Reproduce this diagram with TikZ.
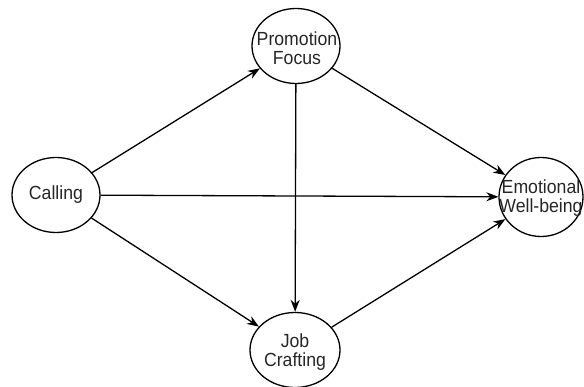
\documentclass[tikz,border=0pt]{standalone}
\usepackage{fontspec}
\setmainfont[FakeStretch=0.93]{Liberation Sans}
\usetikzlibrary{positioning,arrows.meta,shapes.geometric}

\begin{document}
\begin{tikzpicture}[x=1pt, y=-1pt, > = {Stealth[length=12pt,width=9pt]},
var/.style={ ellipse, draw, line width=1.3pt, inner sep=0pt, minimum width=88pt, minimum height=75pt },
vartext/.style={ inner sep=0pt, align=center, text=black!85, font=\fontsize{19}{19.5}\selectfont },
path/.style={ ->, line width=1.3pt }]

\useasboundingbox (0,0) rectangle (584,387);

\node (calling) [var] at (56,195) {};
\node (promo) [var] at (296,46) {};
\node (well) [var, minimum width=84pt, minimum height=79pt] at (541,197) {};
\node (job) [var, minimum width=90pt] at (295,350) {};

%texts in the ellipses
\node (calling text) [vartext] at (calling) {Calling};
\node (promo text) [vartext] at (297,48) {Promotion\\Focus};
\node (well text) [vartext] at (541,198) {Emotional\\Well-being};
\node (job text) [vartext] at (295,352) {Job\\Crafting};

%paths
\draw [path] (calling) -- (promo);
\draw [path] (calling) -- (well);
\draw [path] (calling) -- (job);
\draw [path] (promo) -- (well);
\draw [path] (promo) -- (job);
\draw [path] (job) -- (well);

\end{tikzpicture}
\end{document}
